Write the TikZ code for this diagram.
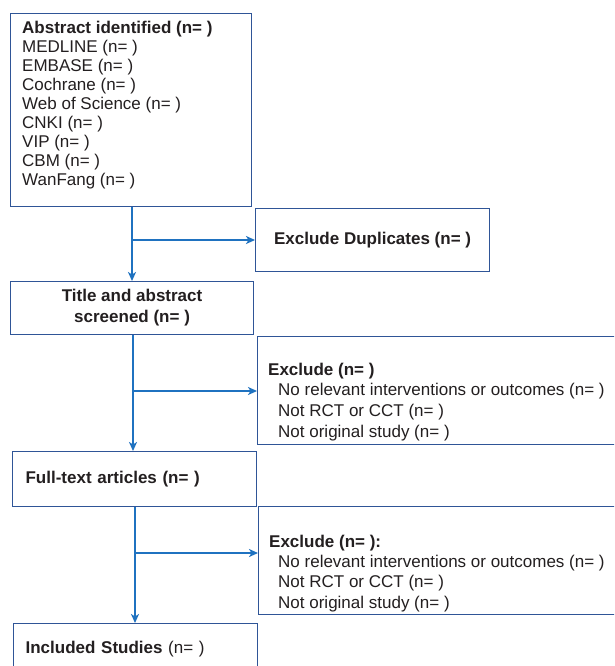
\documentclass[tikz,border=0pt]{standalone}
\usepackage{fontspec}
\setmainfont{Liberation Sans}
\usetikzlibrary{arrows.meta}
\definecolor{boxblue}{HTML}{2F5597}
\definecolor{arrblue}{HTML}{1F72C0}
\definecolor{txtcol}{HTML}{231F20}
\begin{document}
\begin{tikzpicture}[x=1pt,y=-1pt,
  box/.style={draw=boxblue, line width=1.2pt, rectangle, inner sep=0pt, anchor=north west, text=txtcol, font=\fontsize{17}{19}\selectfont},
  lbl/.style={inner sep=0pt, text=txtcol, anchor=base west},
  arr/.style={draw=arrblue, line width=2pt, -{Stealth[length=9pt,width=8pt,inset=2.5pt]}}]
\useasboundingbox (0,0) rectangle (614,666);
\clip (0,0) rectangle (614,666);
\fill[white] (0,0) rectangle (614,666);
% boxes
\node[box, minimum width=241pt, minimum height=193pt] (b1) at (10,13) {};
\node[lbl, font=\fontsize{17}{19}\selectfont] (b1t) at (22,34) {\parbox[t]{225pt}{\raggedright
\textbf{Abstract identified (n= )}\\
MEDLINE (n= )\\
EMBASE (n= )\\
Cochrane (n= )\\
Web of Science (n= )\\
CNKI (n= )\\
VIP (n= )\\
CBM (n= )\\
WanFang (n= )}};
\node[box, minimum width=234pt, minimum height=63pt] (dup) at (255,208) {\textbf{Exclude Duplicates (n= )}};
\node[box, minimum width=243pt, minimum height=53pt, align=center, font=\bfseries\fontsize{17}{21}\selectfont] (b2) at (10,281) {Title and abstract\\screened (n= )};
\node[box, minimum width=370pt, minimum height=108pt] (ex1) at (257,336) {};
\node[lbl, font=\fontsize{17}{20.8}\selectfont] (ex1t) at (268,375) {\parbox[t]{340pt}{\raggedright
\textbf{Exclude (n= )}\\
\hspace*{10pt}No relevant interventions or outcomes (n= )\\
\hspace*{10pt}Not RCT or CCT (n= )\\
\hspace*{10pt}Not original study (n= )}};
\node[box, minimum width=244pt, minimum height=55pt, inner xsep=13pt, text width=218pt, align=left] (b3) at (12,451) {\textbf{Full-text articles (n= )}};
\node[box, minimum width=370pt, minimum height=108pt] (ex2) at (258,506) {};
\node[lbl, font=\fontsize{17}{20.3}\selectfont] (ex2t) at (269,547.3) {\parbox[t]{340pt}{\raggedright
\textbf{Exclude (n= ):}\\
\hspace*{9pt}No relevant interventions or outcomes (n= )\\
\hspace*{9pt}Not RCT or CCT (n= )\\
\hspace*{9pt}Not original study (n= )}};
\node[box, minimum width=244pt, minimum height=50pt, inner xsep=12pt, text width=220pt, align=left] (b4) at (13,623) {\textbf{Included Studies} (n= )};
% connectors
\coordinate (j1) at (132,240);
\coordinate (j2) at (133,391);
\coordinate (j3) at (135,553);
\draw[arr] (b1.south -| j1) -- (b2.north -| j1);
\draw[arr] (j1) -- (j1 -| dup.west);
\draw[arr] (b2.south -| j2) -- (b3.north -| j2);
\draw[arr] (j2) -- (j2 -| ex1.west);
\draw[arr] (b3.south -| j3) -- (b4.north -| j3);
\draw[arr] (j3) -- (j3 -| ex2.west);
\end{tikzpicture}
\end{document}
